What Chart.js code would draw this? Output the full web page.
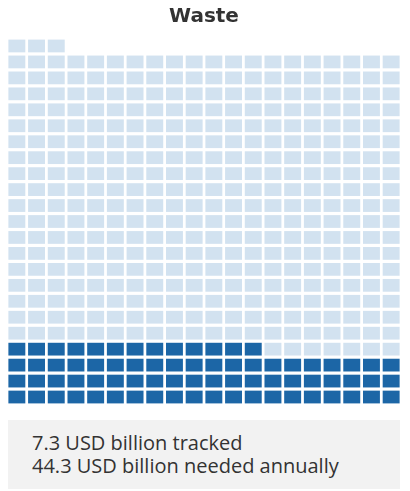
<!DOCTYPE html>
<html>
<head>
<meta charset="utf-8">
<script src="https://cdn.jsdelivr.net/npm/chart.js@4/dist/chart.umd.min.js"></script>
<style>
  html, body { margin: 0; padding: 0; background: #ffffff; }
  #wrap { position: absolute; left: 0; top: 0; width: 410px; height: 405px; }
  #note {
    position: absolute; left: 8px; top: 420px; width: 368px; height: 58px;
    padding: 11px 0 0 24px; background: #f2f2f2;
    font-family: "Open Sans", sans-serif; font-size: 20px; line-height: 23px; color: #333333;
    white-space: nowrap;
  }
</style>
</head>
<body>
<div id="wrap"><canvas id="c"></canvas></div>
<div id="note"></div>
<script>
// ---- data ----
const titleText = 'Waste';
const seriesNames = ['tracked', 'needed annually'];
const seriesValues = [7.3, 44.3];          // USD billion
const unitValue = 0.1;                      // USD billion per cell
const columnLabels = ['1','2','3','4','5','6','7','8','9','10','11','12','13','14','15','16','17','18','19','20'];
const noteLines = ['7.3 USD billion tracked', '44.3 USD billion needed annually'];
const colors = ['#1c66a6', '#d2e2f0'];

// ---- build waffle cells ----
const nCols = columnLabels.length;
const trackedCells = Math.round(seriesValues[0] / unitValue);
const totalCells = Math.round(seriesValues[1] / unitValue);
const nRows = Math.ceil(totalCells / nCols);

const datasets = [];
for (let r = 0; r < nRows; r++) {
  const data = [], bg = [];
  for (let c = 0; c < nCols; c++) {
    const i = r * nCols + c;
    if (i < totalCells) {
      data.push([r + 0.1, r + 0.9]);
      bg.push(i < trackedCells ? colors[0] : colors[1]);
    } else {
      data.push(null);
      bg.push(colors[1]);
    }
  }
  datasets.push({ label: 'row ' + (r + 1), data, backgroundColor: bg, borderWidth: 0, borderSkipped: false });
}

new Chart(document.getElementById('c'), {
  type: 'bar',
  data: { labels: columnLabels, datasets },
  options: {
    responsive: true,
    maintainAspectRatio: false,
    animation: false,
    datasets: { bar: { grouped: false, barPercentage: 0.86, categoryPercentage: 1 } },
    layout: { padding: { left: 7, right: 9, top: 0, bottom: 0 } },
    plugins: {
      legend: { display: false },
      tooltip: { enabled: false },
      title: {
        display: true, text: titleText, color: '#333333',
        font: { family: 'DejaVu Sans', size: 20, weight: 'bold', lineHeight: 1.2 },
        padding: { top: 5, bottom: 9 }
      }
    },
    scales: {
      x: { display: false, offset: true, grid: { display: false } },
      y: { display: false, min: 0, max: nRows, stacked: false }
    }
  }
});

const note = document.getElementById('note');
noteLines.forEach(t => { const d = document.createElement('div'); d.textContent = t; note.appendChild(d); });
</script>
</body>
</html>
